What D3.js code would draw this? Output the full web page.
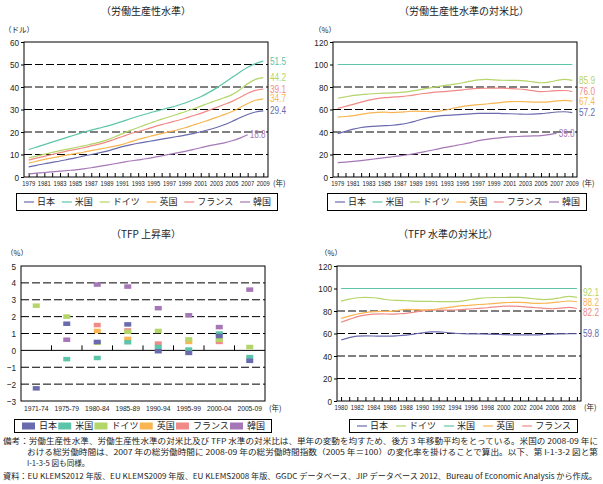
<!DOCTYPE html>
<html><head><meta charset="utf-8">
<script src="https://cdn.jsdelivr.net/npm/d3@7/dist/d3.min.js"></script>
<style>
html,body{margin:0;padding:0;background:#fff;}
svg{display:block;}
</style></head>
<body>
<script>
// ---------- DATA ----------
const years = [1979,1980,1981,1982,1983,1984,1985,1986,1987,1988,1989,1990,1991,1992,1993,1994,1995,1996,1997,1998,1999,2000,2001,2002,2003,2004,2005,2006,2007,2008,2009];
const yearTickLabels = [1979,1981,1983,1985,1987,1989,1991,1993,1995,1997,1999,2001,2003,2005,2007,2009];

// Labour productivity level (USD)
const lpJapan   = [4.5,5.2,5.9,6.5,7.1,7.8,8.5,9.3,10.0,10.7,11.5,12.5,13.5,14.3,15.0,15.6,16.2,16.8,17.4,18.0,18.6,19.3,20.1,21.0,22.0,23.2,24.7,26.3,27.8,28.9,29.4];
const lpUS      = [12.2,13.3,14.4,15.5,16.6,17.7,18.8,19.9,20.8,21.7,22.6,23.6,24.7,25.9,27.0,28.0,29.0,29.9,30.8,31.8,32.9,34.2,35.7,37.5,39.5,41.8,44.2,46.6,48.8,50.4,51.5];
const lpGermany = [8.5,9.3,10.1,10.9,11.7,12.4,13.1,13.8,14.6,15.4,16.5,17.8,19.3,20.7,22.0,23.3,24.5,25.7,26.8,27.9,29.0,30.2,31.5,32.8,34.0,35.2,36.6,38.8,41.5,43.4,44.2];
const lpUK      = [6.2,7.0,7.8,8.5,9.2,9.8,10.4,11.0,11.7,12.4,13.0,13.7,14.5,15.6,16.7,17.6,18.5,19.3,20.1,20.9,21.9,23.0,24.1,25.3,26.5,27.7,29.1,30.8,32.7,34.1,34.7];
const lpFrance  = [7.5,8.4,9.2,10.0,10.8,11.6,12.3,13.0,13.8,14.6,15.6,16.8,18.0,19.2,20.2,21.2,22.3,23.3,24.2,25.1,26.1,27.2,28.3,29.6,30.9,32.2,33.6,35.3,37.2,38.5,39.1];
const lpKorea   = [1.4,1.7,2.0,2.3,2.6,2.9,3.2,3.6,4.1,4.7,5.3,5.9,6.5,7.1,7.6,8.1,8.7,9.4,10.1,10.7,11.4,12.2,13.0,13.8,14.5,15.2,16.1,17.3,18.8,null,null];

// Labour productivity relative to US (%)
const rlJapan   = [38.5,40.5,42.5,44.0,44.8,45.3,45.6,46.0,46.8,48.0,49.8,51.8,53.3,54.3,54.8,55.2,55.7,56.1,56.5,56.6,56.6,56.4,56.2,56.0,55.8,55.9,56.3,57.0,57.8,58.0,57.2];
const rlUS      = [100,100,100,100,100,100,100,100,100,100,100,100,100,100,100,100,100,100,100,100,100,100,100,100,100,100,100,100,100,100,100];
const rlGermany = [70.0,71.3,72.5,73.3,73.8,74.2,74.5,74.8,75.2,75.9,77.0,78.3,79.5,80.6,81.6,82.6,83.8,85.2,86.4,86.8,86.3,86.0,85.9,85.9,85.4,84.5,83.8,84.3,85.8,86.8,85.9];
const rlUK      = [53.2,53.8,54.6,55.6,56.7,57.5,57.6,57.3,57.6,58.2,58.5,58.3,58.1,58.6,59.8,61.4,62.8,63.7,64.3,64.9,65.6,66.4,67.0,67.1,66.9,66.6,66.5,66.8,67.6,68.1,67.4];
const rlFrance  = [61.0,62.8,64.6,66.6,68.4,69.7,70.5,71.0,71.5,72.2,73.2,74.2,75.0,75.6,76.1,76.7,77.5,78.3,78.7,78.9,79.0,79.0,78.6,78.2,77.6,76.7,75.9,76.2,76.8,76.9,76.0];
const rlKorea   = [12.8,13.3,13.9,14.6,15.4,16.3,17.2,18.0,18.8,19.8,21.0,22.4,23.8,25.3,26.6,27.8,29.1,30.6,32.3,33.4,34.3,35.0,35.6,36.0,36.3,36.5,36.8,37.6,39.0,null,null];

// TFP growth (%)
const periods    = ['1971-74','1975-79','1980-84','1985-89','1990-94','1995-99','2000-04','2005-09'];
const tgJapan    = [-2.25,1.58,0.50,1.54,-0.05,-0.15,0.85,-0.62];
const tgUS       = [null,-0.52,-0.45,0.48,0.20,0.05,1.00,-0.40];
const tgGermany  = [2.65,2.00,0.45,1.10,1.15,0.65,0.63,0.20];
const tgUK       = [null,null,1.15,0.68,null,0.50,null,null];
const tgFrance   = [null,null,1.50,1.18,0.40,null,0.50,null];
const tgKorea    = [null,0.63,3.90,3.78,2.50,2.08,1.38,3.60];

// TFP level relative to US (%)
const years2 = [1980,1981,1982,1983,1984,1985,1986,1987,1988,1989,1990,1991,1992,1993,1994,1995,1996,1997,1998,1999,2000,2001,2002,2003,2004,2005,2006,2007,2008,2009];
const yearTickLabels2 = [1980,1982,1984,1986,1988,1990,1992,1994,1996,1998,2000,2002,2004,2006,2008];
const ttJapan   = [54.2,56.3,57.6,57.9,57.8,57.6,57.6,58.0,58.6,59.5,60.6,61.4,61.5,60.9,60.2,59.8,59.6,59.6,59.5,59.3,59.0,58.8,58.7,58.7,58.8,59.1,59.4,59.6,59.8,59.8];
const ttGermany = [88.8,90.5,91.8,92.2,91.8,90.8,89.8,89.4,89.1,88.8,88.6,88.5,88.4,88.3,88.3,89.0,90.2,91.2,91.8,92.0,92.0,92.1,92.2,91.5,90.6,90.2,90.6,91.8,93.0,92.1];
const ttUS      = [100,100,100,100,100,100,100,100,100,100,100,100,100,100,100,100,100,100,100,100,100,100,100,100,100,100,100,100,100,100];
const ttUK      = [73.5,75.4,77.3,78.6,79.4,79.6,79.6,80.6,81.4,81.3,81.0,81.2,82.0,83.0,83.9,84.7,85.3,85.8,86.2,86.8,87.4,87.6,87.7,87.3,86.8,86.9,87.4,88.2,88.9,88.2];
const ttFrance  = [70.0,72.5,75.0,76.4,77.3,77.4,77.3,77.5,77.9,78.9,80.1,80.7,80.9,80.8,80.9,81.4,82.0,82.4,82.9,83.6,84.3,84.4,84.1,83.5,82.9,82.3,82.0,82.6,83.2,82.2];

const yTicksLP = [0,10,20,30,40,50,60];
const yTicksRel = [0,20,40,60,80,100,120];
const yTicksTG = [-3,-2,-1,0,1,2,3,4,5];

// ---------- STYLE ----------
const C = {japan:'#6a6aae', us:'#5cc5a9', germany:'#b4d568', uk:'#f8b551', france:'#f08a86', korea:'#a677b6'};
const JP = '"Noto Sans CJK JP","Noto Sans",sans-serif';
const NUM = '"Liberation Sans",Arial,sans-serif';

const svg = d3.select('body').append('svg').attr('width',603).attr('height',484);
svg.append('rect').attr('width',603).attr('height',484).attr('fill','#fff');

function condense(sel,f){
  sel.each(function(){
    const w = this.getComputedTextLength();
    d3.select(this).attr('textLength',w*f).attr('lengthAdjust','spacingAndGlyphs');
  });
}

function title(x,y,t){
  svg.append('text').attr('x',x).attr('y',y).attr('text-anchor','middle')
    .attr('font-family',JP).attr('font-size',10).attr('fill','#222').text(t);
}
function unit(x,y,t){
  svg.append('text').attr('x',x).attr('y',y).attr('font-family',JP).attr('font-size',7.5).attr('fill','#222').text(t);
}

function lineChart(o){
  const g = svg.append('g');
  const x = d3.scaleLinear().domain(o.xDomain).range([o.x0,o.x1]);
  const y = d3.scaleLinear().domain(o.yDomain).range([o.y1,o.y0]);
  o.grid.forEach(v=>{
    g.append('line').attr('x1',o.x0).attr('x2',o.x1).attr('y1',y(v)).attr('y2',y(v))
      .attr('stroke','#000').attr('stroke-width',1).attr('stroke-dasharray','8,3');
  });
  const ya = d3.axisLeft(y).tickValues(o.yTicks).tickSize(3).tickPadding(2);
  const yg = g.append('g').attr('transform',`translate(${o.x0},0)`).call(ya);
  yg.select('.domain').remove();
  yg.selectAll('text').attr('font-family',NUM).attr('font-size',9.5).attr('fill','#222');
  condense(yg.selectAll('text'),0.86);
  const xa = d3.axisBottom(x).tickValues(o.xAll).tickSizeInner(-4).tickSizeOuter(0).tickFormat('');
  const xg = g.append('g').attr('transform',`translate(0,${o.y1})`).call(xa);
  xg.select('.domain').remove();
  xg.selectAll('line').attr('stroke','#000');
  const xl = g.append('g').selectAll('text').data(o.xLabels).join('text')
    .attr('x',d=>x(d)).attr('y',o.y1+9).attr('text-anchor','middle')
    .attr('font-family',NUM).attr('font-size',7.5).attr('fill','#222').text(d=>d);
  condense(xl,o.xCond||0.78);
  g.append('text').attr('x',o.x1+(o.unitGap||5)).attr('y',o.y1+9).attr('font-family',JP).attr('font-size',7.5).attr('fill','#222').text('(年)');
  const line = d3.line().defined(d=>d[1]!=null).x(d=>x(d[0])).y(d=>y(d[1])).curve(d3.curveMonotoneX);
  o.series.forEach(s=>{
    const pts = o.xAll.map((xx,i)=>[xx,s.values[i]]);
    g.append('path').attr('d',line(pts)).attr('fill','none').attr('stroke',s.color).attr('stroke-width',1.2);
  });
  o.series.forEach(s=>{
    if(!s.label) return;
    let li = s.values.length-1; while(s.values[li]==null) li--;
    const atEnd = s.values.length-1===li;
    const lx = atEnd ? (o.labelX!=null?o.labelX:o.x1+2) : x(o.xAll[li])+2;
    const t = g.append('text').attr('x',lx)
      .attr('y',y(s.values[li])+(s.dy||0)).attr('dy','0.35em')
      .attr('font-family',NUM).attr('font-size',10).attr('fill',s.color)
      .text(d3.format('.1f')(s.values[li]));
    condense(t,0.82);
  });
  g.append('rect').attr('x',o.x0).attr('y',o.y0).attr('width',o.x1-o.x0).attr('height',o.y1-o.y0)
    .attr('fill','none').attr('stroke','#000').attr('stroke-width',1);
}

function legend(x0,x1,y0,y1,items,sw){
  const g = svg.append('g');
  g.append('rect').attr('x',x0+0.5).attr('y',y0+0.5).attr('width',x1-x0).attr('height',y1-y0)
    .attr('fill','#fff').attr('stroke','#000').attr('stroke-width',1);
  const cy = (y0+y1)/2+0.5;
  const texts = items.map(it=>g.append('text').attr('font-family',JP).attr('font-size',9).attr('fill','#222')
      .attr('y',cy).attr('dy','0.35em').text(it.name));
  const widths = texts.map(t=>t.node().getComputedTextLength());
  const swW = sw==='rect'?13:10, gapST = sw==='rect'?4:3;
  const content = d3.sum(widths)+items.length*(swW+gapST);
  const padL = 8, padR = 6;
  const gap = (x1-x0-padL-padR-content)/(items.length-1);
  let cx = x0+padL;
  items.forEach((it,i)=>{
    if(sw==='rect'){
      g.append('rect').attr('x',cx).attr('y',cy-3.5).attr('width',swW).attr('height',7).attr('fill',it.color);
    } else {
      g.append('line').attr('x1',cx).attr('x2',cx+swW).attr('y1',cy).attr('y2',cy).attr('stroke',it.color).attr('stroke-width',1.2);
    }
    texts[i].attr('x',cx+swW+gapST);
    cx += swW+gapST+widths[i]+gap;
  });
}

// ---------- Chart 1 ----------
title(146,15,'（労働生産性水準）');
unit(4,33,'（ドル）');
lineChart({
  x0:24,x1:268,y0:42,y1:177,
  xDomain:[1978.4,2009.6], yDomain:[0,60],
  xAll:years, xLabels:yearTickLabels, yTicks:yTicksLP, grid:[10,20,30,40,50],
  series:[
    {color:C.korea,values:lpKorea,label:true},
    {color:C.japan,values:lpJapan,label:true},
    {color:C.uk,values:lpUK,label:true},
    {color:C.france,values:lpFrance,label:true},
    {color:C.germany,values:lpGermany,label:true},
    {color:C.us,values:lpUS,label:true}
  ]
});
legend(16,277,193,210,[
  {name:'日本',color:C.japan},{name:'米国',color:C.us},{name:'ドイツ',color:C.germany},
  {name:'英国',color:C.uk},{name:'フランス',color:C.france},{name:'韓国',color:C.korea}],'line');

// ---------- Chart 2 ----------
title(464,15,'（労働生産性水準の対米比）');
unit(314,33,'（%）');
lineChart({
  x0:333,x1:577,y0:42,y1:177,
  xDomain:[1978.4,2009.6], yDomain:[0,120],
  xAll:years, xLabels:yearTickLabels, yTicks:yTicksRel, grid:[20,40,60,80],
  series:[
    {color:C.korea,values:rlKorea,label:true},
    {color:C.japan,values:rlJapan,label:true},
    {color:C.uk,values:rlUK,label:true},
    {color:C.france,values:rlFrance,label:true},
    {color:C.germany,values:rlGermany,label:true},
    {color:C.us,values:rlUS,label:false}
  ]
});
legend(327,586,193,210,[
  {name:'日本',color:C.japan},{name:'米国',color:C.us},{name:'ドイツ',color:C.germany},
  {name:'英国',color:C.uk},{name:'フランス',color:C.france},{name:'韓国',color:C.korea}],'line');

// ---------- Chart 3 ----------
title(146,238,'（TFP 上昇率）');
unit(6,256,'（%）');
(function(){
  const x0=21,x1=265,y0=266,y1=401;
  const g = svg.append('g');
  const x = d3.scaleBand().domain(periods).range([x0,x1]);
  const y = d3.scaleLinear().domain([-3,5]).range([y1,y0]);
  [-2,-1,1,2,3,4].forEach(v=>{
    g.append('line').attr('x1',x0).attr('x2',x1).attr('y1',y(v)).attr('y2',y(v))
      .attr('stroke','#000').attr('stroke-dasharray','8,3');
  });
  g.append('line').attr('x1',x0).attr('x2',x1).attr('y1',y(0)).attr('y2',y(0)).attr('stroke','#000');
  periods.slice(1).forEach(p=>{
    g.append('line').attr('x1',x(p)).attr('x2',x(p)).attr('y1',y(0)).attr('y2',y(0)-5).attr('stroke','#000');
  });
  const ya = d3.axisLeft(y).tickValues(yTicksTG).tickSize(0).tickPadding(5).tickFormat(d3.format('d'));
  const yg = g.append('g').attr('transform',`translate(${x0},0)`).call(ya);
  yg.select('.domain').remove();
  yg.selectAll('text').attr('font-family',NUM).attr('font-size',9.5).attr('fill','#222');
  condense(yg.selectAll('text'),0.86);
  const pl = g.append('g').selectAll('text').data(periods).join('text')
    .attr('x',d=>x(d)+x.bandwidth()/2).attr('y',y1+10).attr('text-anchor','middle')
    .attr('font-family',NUM).attr('font-size',8).attr('fill','#222').text(d=>d);
  condense(pl,0.84);
  g.append('text').attr('x',x1+4).attr('y',y1+10).attr('font-family',JP).attr('font-size',7.5).attr('fill','#222').text('(年)');
  const series = [
    {color:C.korea,v:tgKorea},{color:C.france,v:tgFrance},{color:C.uk,v:tgUK},
    {color:C.us,v:tgUS},{color:C.germany,v:tgGermany},{color:C.japan,v:tgJapan}];
  series.forEach(s=>{
    g.append('g').selectAll('rect').data(periods.map((p,i)=>[p,s.v[i]]).filter(d=>d[1]!=null)).join('rect')
      .attr('x',d=>x(d[0])+x.bandwidth()/2-3.5).attr('y',d=>y(d[1])-2.25)
      .attr('width',7).attr('height',4.5).attr('fill',s.color);
  });
  g.append('rect').attr('x',x0).attr('y',y0).attr('width',x1-x0).attr('height',y1-y0)
    .attr('fill','none').attr('stroke','#000');
})();
legend(14,271,419,432,[
  {name:'日本',color:C.japan},{name:'米国',color:C.us},{name:'ドイツ',color:C.germany},
  {name:'英国',color:C.uk},{name:'フランス',color:C.france},{name:'韓国',color:C.korea}],'rect');

// ---------- Chart 4 ----------
title(448,238,'（TFP 水準の対米比）');
unit(320,256,'（%）');
lineChart({
  x0:337,x1:581,y0:266,y1:401,
  xDomain:[1979.5,2009.5], yDomain:[0,120],
  xAll:years2, xLabels:yearTickLabels2, yTicks:yTicksRel, grid:[20,40,60,80],
  labelX:583, xCond:0.8, unitGap:3,
  series:[
    {color:C.japan,values:ttJapan,label:true},
    {color:C.france,values:ttFrance,label:true,dy:4},
    {color:C.uk,values:ttUK,label:true,dy:0.5},
    {color:C.germany,values:ttGermany,label:true,dy:-5},
    {color:C.us,values:ttUS,label:false}
  ]
});
legend(349,577,419,432,[
  {name:'日本',color:C.japan},{name:'ドイツ',color:C.germany},{name:'米国',color:C.us},
  {name:'英国',color:C.uk},{name:'フランス',color:C.france}],'line');

// ---------- Notes ----------
const notes = [
  {x:3,y:444,w:595,t:'備考：労働生産性水準、労働生産性水準の対米比及び TFP 水準の対米比は、単年の変動を均すため、後方 3 年移動平均をとっている。米国の 2008-09 年に'},
  {x:27,y:455,w:571,t:'おける総労働時間は、2007 年の総労働時間に 2008-09 年の総労働時間指数（2005 年＝100）の変化率を掛けることで算出。以下、第 I-1-3-2 図と第'},
  {x:27,y:466,w:null,t:'I-1-3-5 図も同様。'},
  {x:3,y:479,w:594,t:'資料：EU KLEMS2012 年版、EU KLEMS2009 年版、EU KLEMS2008 年版、GGDC データベース、JIP データベース 2012、Bureau of Economic Analysis から作成。'}
];
notes.forEach(n=>{
  const t = svg.append('text').attr('x',n.x).attr('y',n.y).attr('font-family',JP).attr('font-size',7.6).attr('fill','#222').text(n.t);
  if(n.w) t.attr('textLength',n.w).attr('lengthAdjust','spacingAndGlyphs');
});
</script>
</body></html>
